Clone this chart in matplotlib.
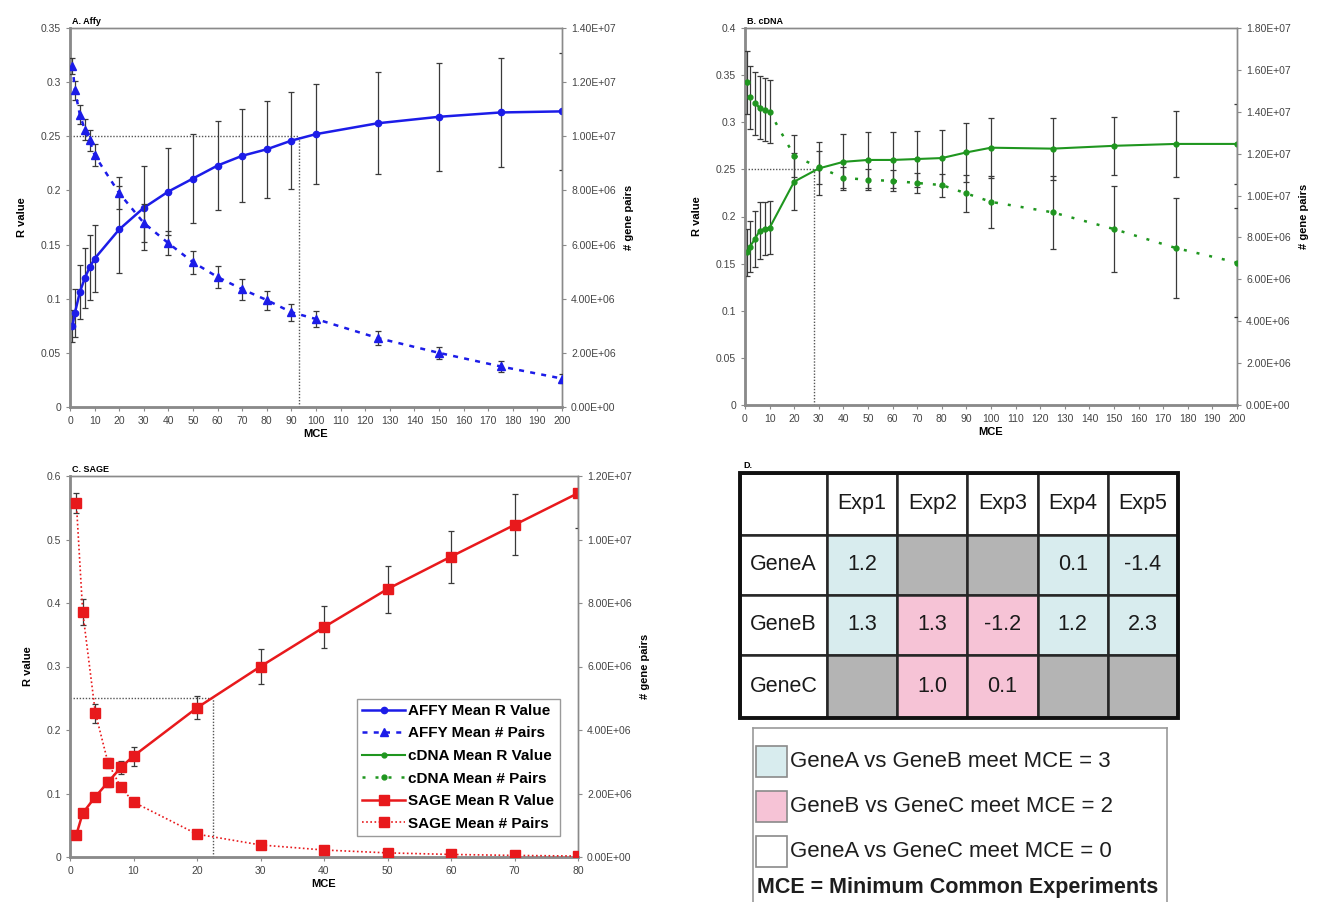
import matplotlib
matplotlib.use('Agg')
import matplotlib.pyplot as plt
from matplotlib.patches import Rectangle
from matplotlib.ticker import FuncFormatter

plt.rcParams['font.family'] = ['Liberation Sans', 'DejaVu Sans']

# ---- data ----
mce_ab = [1, 2, 4, 6, 8, 10, 20, 30, 40, 50, 60, 70, 80, 90, 100, 125, 150, 175, 200]

affy_r = [0.075, 0.087, 0.106, 0.119, 0.129, 0.137, 0.164, 0.184, 0.199, 0.211, 0.223, 0.232,
          0.238, 0.246, 0.252, 0.262, 0.268, 0.272, 0.273]
affy_r_sd = [0.015, 0.022, 0.025, 0.028, 0.030, 0.031, 0.040, 0.039, 0.040, 0.041, 0.041, 0.043,
             0.045, 0.045, 0.046, 0.047, 0.050, 0.050, 0.054]
affy_pairs = [12.6e6, 11.7e6, 10.8e6, 10.25e6, 9.85e6, 9.3e6, 7.9e6, 6.8e6, 6.05e6, 5.35e6, 4.8e6,
              4.35e6, 3.95e6, 3.5e6, 3.25e6, 2.55e6, 2.0e6, 1.5e6, 1.05e6]
affy_pairs_sd = [0.3e6, 0.35e6, 0.35e6, 0.4e6, 0.4e6, 0.4e6, 0.6e6, 0.7e6, 0.45e6, 0.43e6, 0.4e6,
                 0.38e6, 0.35e6, 0.32e6, 0.3e6, 0.25e6, 0.22e6, 0.2e6, 0.18e6]

cdna_r = [0.162, 0.168, 0.176, 0.185, 0.187, 0.188, 0.237, 0.251, 0.258, 0.260, 0.260, 0.261,
          0.262, 0.268, 0.273, 0.272, 0.275, 0.277, 0.277]
cdna_r_sd = [0.025, 0.027, 0.030, 0.030, 0.028, 0.028, 0.030, 0.028, 0.030, 0.030, 0.030, 0.030,
             0.030, 0.031, 0.032, 0.033, 0.031, 0.035, 0.042]
cdna_pairs = [15.4e6, 14.7e6, 14.4e6, 14.2e6, 14.1e6, 14.0e6, 11.9e6, 11.35e6, 10.85e6, 10.75e6,
              10.7e6, 10.6e6, 10.5e6, 10.1e6, 9.7e6, 9.2e6, 8.4e6, 7.5e6, 6.8e6]
cdna_pairs_sd = [1.5e6, 1.5e6, 1.5e6, 1.5e6, 1.5e6, 1.5e6, 1.0e6, 0.8e6, 0.5e6, 0.5e6, 0.5e6,
                 0.5e6, 0.55e6, 0.9e6, 1.25e6, 1.75e6, 2.05e6, 2.4e6, 2.6e6]

mce_c = [1, 2, 4, 6, 8, 10, 20, 30, 40, 50, 60, 70, 80]
sage_r = [0.035, 0.069, 0.095, 0.118, 0.141, 0.159, 0.235, 0.300, 0.362, 0.422, 0.473, 0.523, 0.573]
sage_r_sd = [0.004, 0.005, 0.006, 0.008, 0.010, 0.015, 0.018, 0.027, 0.033, 0.037, 0.041, 0.048, 0.055]
sage_pairs = [11.15e6, 7.72e6, 4.53e6, 2.96e6, 2.2e6, 1.73e6, 0.72e6, 0.38e6, 0.22e6, 0.13e6,
              0.08e6, 0.05e6, 0.03e6]
sage_pairs_sd = [0.3e6, 0.4e6, 0.3e6, 0.15e6, 0.1e6, 0.08e6, 0.05e6, 0.03e6, 0.02e6, 0.01e6,
                 0.01e6, 0.01e6, 0.01e6]

r_threshold = 0.25
cross_mce = {'A': 93, 'B': 28, 'C': 22.5}

experiments = ['Exp1', 'Exp2', 'Exp3', 'Exp4', 'Exp5']
genes = ['GeneA', 'GeneB', 'GeneC']
table_values = [['1.2', '', '', '0.1', '-1.4'],
                ['1.3', '1.3', '-1.2', '1.2', '2.3'],
                ['', '1.0', '0.1', '', '']]
table_groups = [['ab', 'na', 'na', 'ab', 'ab'],
                ['ab', 'bc', 'bc', 'ab', 'ab'],
                ['na', 'bc', 'bc', 'na', 'na']]
key_labels = ['GeneA vs GeneB meet MCE = 3', 'GeneB vs GeneC meet MCE = 2', 'GeneA vs GeneC meet MCE = 0']
key_groups = ['ab', 'bc', 'none']

group_colors = {'ab': '#d8ecee', 'bc': '#f6c3d6', 'na': '#b4b4b4', 'none': 'white'}
BLUE, GREEN, RED = '#1c1ce8', '#1f961f', '#e8191c'
FIG_W, FIG_H = 1330, 902


def px_axes(fig, left, top, right, bottom):
    return fig.add_axes([left / FIG_W, 1 - bottom / FIG_H, (right - left) / FIG_W, (bottom - top) / FIG_H])


def style_axes(ax, ax2):
    for a in (ax, ax2):
        for s in a.spines.values():
            s.set_color('#8a8a8a')
            s.set_linewidth(1.0)
        a.tick_params(labelsize=7.5, labelcolor='#444444', color='#8a8a8a', length=3, width=0.8)
    ax.spines['left'].set_linewidth(2.0)
    ax.spines['bottom'].set_linewidth(2.0)
    ax.yaxis.set_major_formatter(FuncFormatter(lambda v, p: '%g' % round(v, 3)))
    ax2.yaxis.set_major_formatter(FuncFormatter(lambda v, p: '{:.2E}'.format(v)))


def draw_panel(ax, x, r, r_sd, pairs, pairs_sd, color, r_style, p_style, r_max, r_step, p_max,
               x_max, x_step, cross, title):
    ax2 = ax.twinx()
    err = dict(ecolor='#3a3a3a', elinewidth=0.9, capsize=2.5, capthick=0.9)
    ax.plot([0, cross], [r_threshold, r_threshold], color='#555555', lw=1, ls=(0, (1, 1.2)), zorder=1)
    ax.plot([cross, cross], [0, r_threshold], color='#555555', lw=1, ls=(0, (1, 1.2)), zorder=1)
    r_line = ax.errorbar(x, r, yerr=r_sd, color=color, mec=color, zorder=3, **r_style, **err)
    p_line = ax2.errorbar(x, pairs, yerr=pairs_sd, color=color, mec=color, zorder=3, **p_style, **err)

    ax.set_xlim(0, x_max)
    ax.set_ylim(0, r_max)
    ax2.set_ylim(0, p_max)
    ax.set_xticks(range(0, x_max + 1, x_step))
    ax.set_yticks([i * r_step for i in range(int(round(r_max / r_step)) + 1)])
    ax2.set_yticks(range(0, int(p_max) + 1, 2000000))
    style_axes(ax, ax2)

    ax.set_xlabel('MCE', fontsize=8, fontweight='bold', labelpad=2)
    ax.set_ylabel('R value', fontsize=8, fontweight='bold', labelpad=10)
    ax2.set_ylabel('# gene pairs', fontsize=8, fontweight='bold', labelpad=6)
    ax.text(0.004, 1.004, title, transform=ax.transAxes, fontsize=6.5, fontweight='bold', va='bottom')
    return r_line[0], p_line[0]


fig = plt.figure(figsize=(FIG_W / 100, FIG_H / 100), dpi=100)

ax_a = px_axes(fig, 70, 28, 562, 407)
h_a = draw_panel(ax_a, mce_ab, affy_r, affy_r_sd, affy_pairs, affy_pairs_sd, BLUE,
                 dict(marker='o', ms=4.5, lw=1.8),
                 dict(marker='^', ms=6, lw=1.8, ls=(0, (2, 2.5))),
                 0.35, 0.05, 14e6, 200, 10, cross_mce['A'], 'A. Affy')

ax_b = px_axes(fig, 745, 28, 1237, 405)
h_b = draw_panel(ax_b, mce_ab, cdna_r, cdna_r_sd, cdna_pairs, cdna_pairs_sd, GREEN,
                 dict(marker='o', ms=3.5, lw=1.5),
                 dict(marker='o', ms=3.5, lw=1.8, ls=(0, (1.2, 4))),
                 0.4, 0.05, 18e6, 200, 10, cross_mce['B'], 'B. cDNA')

ax_c = px_axes(fig, 70, 476, 578, 857)
h_c = draw_panel(ax_c, mce_c, sage_r, sage_r_sd, sage_pairs, sage_pairs_sd, RED,
                 dict(marker='s', ms=7, lw=1.8),
                 dict(marker='s', ms=7, lw=1.2, ls=(0, (1, 1.5))),
                 0.6, 0.1, 12e6, 80, 10, cross_mce['C'], 'C. SAGE')

handles = [h_a[0], h_a[1], h_b[0], h_b[1], h_c[0], h_c[1]]
labels = ['AFFY Mean R Value', 'AFFY Mean # Pairs', 'cDNA Mean R Value', 'cDNA Mean # Pairs',
          'SAGE Mean R Value', 'SAGE Mean # Pairs']
leg = fig.legend(handles, labels, loc='lower left', bbox_to_anchor=(357 / FIG_W, 1 - 836 / FIG_H),
                 prop={'size': 11, 'weight': 'bold'}, handlelength=2.8, handletextpad=0.2,
                 labelspacing=0.56, borderpad=0.35, borderaxespad=0, fancybox=False, framealpha=1,
                 edgecolor='#9a9a9a')
leg.get_frame().set_linewidth(1.0)

# ---- panel D: table ----
fig.text(743 / FIG_W, 1 - 468 / FIG_H, 'D.', fontsize=6.5, fontweight='bold')
ax_t = px_axes(fig, 740, 473, 1178, 718)
col_w = [1.24, 1, 1, 1, 1, 1]
row_h = [1.03, 1, 1, 1.05]
ax_t.set_xlim(0, sum(col_w))
ax_t.set_ylim(sum(row_h), 0)
ax_t.axis('off')

col_x = [sum(col_w[:i]) for i in range(len(col_w))]
row_y = [sum(row_h[:i]) for i in range(len(row_h))]
for ri in range(len(genes) + 1):
    for ci in range(len(experiments) + 1):
        if ri == 0 or ci == 0:
            face, txt = 'white', (experiments[ci - 1] if ri == 0 and ci > 0 else (genes[ri - 1] if ri > 0 else ''))
        else:
            face, txt = group_colors[table_groups[ri - 1][ci - 1]], table_values[ri - 1][ci - 1]
        ax_t.add_patch(Rectangle((col_x[ci], row_y[ri]), col_w[ci], row_h[ri], facecolor=face,
                                 edgecolor='#262626', lw=1.8))
        ax_t.text(col_x[ci] + col_w[ci] / 2, row_y[ri] + row_h[ri] / 2, txt, ha='center', va='center',
                  fontsize=15.5, color='#1a1a1a')
ax_t.add_patch(Rectangle((0, 0), sum(col_w), sum(row_h), fill=False, edgecolor='#111111', lw=2.8,
                         clip_on=False))

# ---- panel D: colour key ----
ax_k = px_axes(fig, 753, 728, 1167, 912)
ax_k.set_xlim(0, 414)
ax_k.set_ylim(184, 0)
ax_k.set_xticks([])
ax_k.set_yticks([])
for s in ax_k.spines.values():
    s.set_color('#9a9a9a')
    s.set_linewidth(1.2)
for i, (lab, grp) in enumerate(zip(key_labels, key_groups)):
    yc = 34 + i * 45
    ax_k.add_patch(Rectangle((3, yc - 16), 31, 31, facecolor=group_colors[grp], edgecolor='#8a8a8a', lw=1.2))
    ax_k.text(37, yc, lab, fontsize=16, va='center', ha='left', color='#1e1e1e')
ax_k.text(4, 160, 'MCE = Minimum Common Experiments', fontsize=15.5, fontweight='bold',
          va='center', ha='left', color='#1e1e1e')

fig.savefig('out.png', dpi=100)
